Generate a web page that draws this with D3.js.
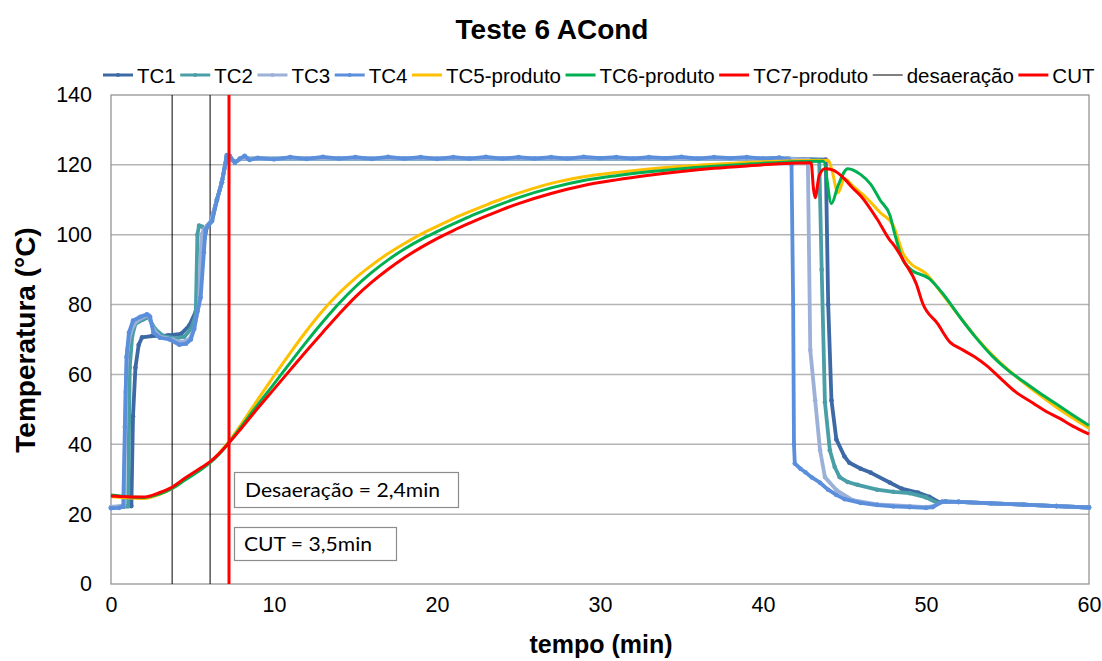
<!DOCTYPE html>
<html>
<head>
<meta charset="utf-8">
<script src="https://cdn.jsdelivr.net/npm/d3@7"></script>
<style>
  body { margin: 0; background: #fff; }
  svg text { font-family: "Liberation Sans", Arial, sans-serif; }
</style>
</head>
<body>
<svg id="chart" width="1102" height="661"></svg>
<script>
// series data [tempo (min), temperatura (°C)]
var tc1 = [[0,21.9],[1.25,22.3],[1.35,48],[1.5,62],[1.7,68.5],[1.9,70.6],[2.5,71],[3.5,71.2],[4.3,71.6],[4.8,74],[5.2,78],[5.5,86],[5.7,98],[5.9,102.5],[6.1,103.5],[6.5,110],[6.8,115],[7.1,122.3],[7.6,120.8],[8,121.8],[41.5,121.8],[43.85,121.5],[44.0,80],[44.2,52.6],[44.5,41.4],[45,36.5],[45.3,34.7],[46,33],[46.6,31.9],[47.8,29],[48.5,27.3],[49.5,26.2],[50.2,25],[50.8,23.4],[51.2,23.6],[52,23.5],[54,23.1],[56,22.7],[58,22.3],[60,21.9]];
var tc2 = [[0,21.9],[1.05,22.3],[1.15,62],[1.3,71],[1.5,74.5],[2.0,75.8],[2.3,76.3],[2.7,73],[3.2,71],[4,70.3],[4.5,70.8],[4.9,73],[5.2,77],[5.3,100],[5.4,102.6],[5.6,102.3],[5.8,101.5],[6.0,103],[6.2,104],[6.5,110],[6.8,115],[7.1,122.3],[7.6,120.8],[8,121.8],[41.5,121.8],[43.45,121.3],[43.6,90],[43.8,52],[44.1,38.3],[44.4,33.5],[44.7,30.6],[45.2,29.2],[45.8,28.4],[47,27],[48,26.4],[49,26],[50,24.8],[50.7,23.2],[51.2,23.6],[52,23.5],[54,23.1],[56,22.7],[58,22.3],[60,21.9]];
var tc3 = [[0,22.1],[0.8,22.4],[0.9,55],[1.0,67],[1.2,72],[1.5,75],[2.0,76.5],[2.3,77],[2.6,73],[3.0,70.8],[3.8,70],[4.3,69.2],[4.8,70],[5.1,73],[5.4,80],[5.55,100],[5.7,101.5],[5.9,102.5],[6.1,103.5],[6.5,110],[6.8,115],[7.1,122.3],[7.6,120.8],[8,121.8],[41.5,121.8],[42.75,121.5],[42.9,67],[43.2,52.6],[43.5,38.3],[43.8,30.6],[44.5,26.9],[45.5,24],[47,22.8],[49,22.3],[50,22],[50.5,22.3],[51,23.5],[52,23.5],[54,23.1],[56,22.7],[58,22.3],[60,21.9]];
var tc4 = [[0,21.7],[0.5,21.8],[0.75,22.2],[0.85,45],[0.95,65],[1.1,72],[1.35,75.4],[1.8,76.5],[2.2,77.2],[2.4,76.5],[2.6,72],[3.0,70.5],[3.6,70],[4.2,68.5],[4.6,68.8],[4.9,70],[5.1,73],[5.3,78],[5.5,82],[5.7,95],[5.8,101.5],[6.0,102.8],[6.2,104],[6.5,110],[6.8,115],[7.1,122.8],[7.3,122.5],[7.6,120.6],[7.9,121.8],[8.2,122.6],[8.5,121.4],[9,122],[10,121.6],[11,122.2],[12,121.7],[13,122.3],[14,121.8],[15,122.2],[16,121.7],[17,122.3],[18,121.8],[19,122.2],[20,121.7],[21,122.2],[22,121.8],[23,122.3],[24,121.8],[25,122.2],[26,121.8],[27,122.2],[28,121.8],[29,122.3],[30,121.9],[31,122.2],[32,121.8],[33,122.2],[34,121.9],[35,122.3],[36,121.8],[37,122.2],[38,121.9],[39,122.2],[40,121.8],[41,122.1],[41.6,121.5],[41.75,120],[41.85,80],[41.9,40],[41.95,34.5],[42.3,33],[42.6,32],[43,30.5],[43.5,29],[44,27],[44.5,25.5],[45,24.3],[46,23.2],[47,22.6],[48,22.2],[49,22],[50,21.8],[50.4,22],[51,23.6],[52,23.5],[54,23.1],[56,22.7],[58,22.3],[60,21.9]];
var tc5 = [[0,25.0],[1,24.7],[2,24.5],[3,25.7],[3.7,27.2],[4.5,29.8],[5.5,32.9],[6.1,35.0],[6.6,37.3],[7.2,40.6],[8,45.8],[9,52.8],[10,59.6],[11,66.2],[12,72.5],[13,78.3],[14,83.3],[15,87.6],[16,91.3],[17,94.6],[18,97.5],[19,100.1],[20,102.4],[21,104.6],[22,106.6],[23,108.5],[24,110.3],[25,111.9],[27,114.7],[29,116.6],[31,117.8],[33,118.8],[35,119.6],[37,120.2],[39,120.7],[41,121],[42,121.2],[44,121.3],[44.2,119],[44.6,112],[45,116],[45.5,114],[46,112],[46.4,110.3],[47.2,106.3],[48,102.6],[48.6,94.6],[49,92],[50,88.9],[51,83],[52.1,76.3],[53,71],[54,65.9],[55,61.5],[56,57.6],[57,54.0],[58,50.6],[59,47.5],[60,44.6]];
var tc6 = [[0,25.5],[1,25.0],[2,24.8],[3,25.8],[3.7,27.2],[4.5,29.6],[5.5,32.7],[6.1,34.8],[6.6,37.0],[7.2,40.3],[8,45.1],[9,51.3],[10,57.3],[11,63.4],[12,69.4],[13,75.1],[14,80.4],[15,85.1],[16,89.2],[17,92.8],[18,95.9],[19,98.6],[20,100.9],[21,103.1],[22,105.2],[23,107.1],[24,108.9],[25,110.6],[27,113.4],[29,115.5],[31,116.9],[33,118.0],[35,118.9],[37,119.6],[39,120.2],[41,120.7],[43.7,121],[44.2,108.9],[44.6,114],[45.2,118.9],[46,117.2],[46.6,114.5],[47.2,109.8],[47.8,105.4],[48,101.7],[48.6,92.6],[49,90.3],[50.2,87.4],[51,83.3],[52.1,76.3],[53,70.9],[54.1,65.1],[55,61.3],[56,57.9],[57,54.6],[58,51.5],[59,48.4],[60,45.4]];
var tc7 = [[0,25.2],[1,25.0],[2,24.9],[3,26.2],[3.7,27.6],[4.5,30.2],[5.5,33.2],[6.1,35.1],[6.6,37.2],[7.2,40.2],[8,44.6],[9,50.3],[10,55.8],[11,61.3],[12,66.8],[13,72.1],[14,77.3],[15,82.2],[16,86.4],[17,90.1],[18,93.4],[19,96.3],[20,98.9],[21,101.2],[22,103.3],[23,105.3],[24,107.2],[25,108.9],[27,111.8],[29,114.1],[31,115.7],[33,117.0],[35,118.1],[37,119.0],[39,119.7],[41,120.3],[42.95,120.6],[43.1,113],[43.2,110.6],[43.45,117],[43.8,118.9],[44.3,118.5],[45,116],[45.5,113.4],[46,111.1],[47,104.5],[47.8,98.3],[48,97.2],[48.7,92],[49.4,86],[49.8,80.3],[50.7,74.6],[51.5,69.1],[52.1,67.4],[53,65],[53.7,62.6],[54.7,58.3],[55.5,55],[56.6,51.7],[57.4,49.3],[58.2,47.4],[59,45.2],[60,42.9]];

var deaerationTimes = [3.75, 6.08];
var cutTime = 7.24;

var xTicks = [0, 10, 20, 30, 40, 50, 60];
var yTicks = [0, 20, 40, 60, 80, 100, 120, 140];

var seriesNames = ['TC1', 'TC2', 'TC3', 'TC4', 'TC5-produto', 'TC6-produto', 'TC7-produto'];
var seriesColors = ['#3d69a5', '#4a9ea7', '#9cb0d8', '#5b8fdc', '#ffc000', '#00b050', '#ff0000'];
var seriesData = [tc1, tc2, tc3, tc4, tc5, tc6, tc7];

var svg = d3.select('#chart');
var plot = {l: 111, r: 1089, t: 95, b: 584};

var x = d3.scaleLinear().domain([0, 60]).range([plot.l, plot.r]);
var y = d3.scaleLinear().domain([0, 140]).range([plot.b, plot.t]);

// title
svg.append('text')
    .attr('x', 552).attr('y', 39)
    .attr('text-anchor', 'middle')
    .style('font-size', '28px').style('font-weight', 'bold')
    .text('Teste 6 ACond');

// gridlines
svg.append('g').selectAll('line')
    .data(yTicks.filter(function(d){ return d > 0 && d < 140; }))
    .enter().append('line')
    .attr('x1', plot.l).attr('x2', plot.r)
    .attr('y1', function(d){ return y(d); })
    .attr('y2', function(d){ return y(d); })
    .attr('stroke', '#b4b4b4').attr('stroke-width', 1.5);

// plot frame
svg.append('rect')
    .attr('x', plot.l).attr('y', plot.t)
    .attr('width', plot.r - plot.l).attr('height', plot.b - plot.t)
    .attr('fill', 'none').attr('stroke', '#8c8c8c').attr('stroke-width', 1.2);

// axes (labels only)
var yAxis = d3.axisLeft(y).tickValues(yTicks).tickSize(0).tickPadding(19);
svg.append('g').attr('transform', 'translate(' + plot.l + ',0)').call(yAxis)
    .call(function(g){ g.select('.domain').remove(); })
    .selectAll('text').style('font-size', '21.5px').attr('fill', '#000')
    .style('font-family', '"Liberation Sans", Arial, sans-serif');

var xAxis = d3.axisBottom(x).tickValues(xTicks).tickSize(0).tickPadding(13);
svg.append('g').attr('transform', 'translate(0,' + plot.b + ')').call(xAxis)
    .call(function(g){ g.select('.domain').remove(); })
    .selectAll('text').style('font-size', '21.5px').attr('fill', '#000')
    .style('font-family', '"Liberation Sans", Arial, sans-serif');

// axis titles
svg.append('text')
    .attr('x', 601).attr('y', 653)
    .attr('text-anchor', 'middle')
    .style('font-size', '25px').style('font-weight', 'bold')
    .text('tempo (min)');

svg.append('text')
    .attr('transform', 'translate(35,340) rotate(-90)')
    .attr('text-anchor', 'middle')
    .style('font-size', '28px').style('font-weight', 'bold')
    .text('Temperatura (°C)');

// desaeração lines
svg.append('g').selectAll('line')
    .data(deaerationTimes)
    .enter().append('line')
    .attr('x1', function(d){ return x(d); })
    .attr('x2', function(d){ return x(d); })
    .attr('y1', y(0)).attr('y2', y(140))
    .attr('stroke', '#000').attr('stroke-width', 1);

// series lines
var lineTC = d3.line()
    .x(function(d){ return x(d[0]); })
    .y(function(d){ return y(d[1]); });
var lineProd = d3.line()
    .x(function(d){ return x(d[0]); })
    .y(function(d){ return y(d[1]); })
    .curve(d3.curveMonotoneX);

seriesData.forEach(function(data, i){
    var isTC = i < 4;
    svg.append('path')
        .datum(data)
        .attr('d', isTC ? lineTC : lineProd)
        .attr('fill', 'none')
        .attr('stroke', seriesColors[i])
        .attr('stroke-width', isTC ? 3.8 : 3)
        .attr('stroke-linejoin', 'round');
    if (isTC) {
        svg.append('g').selectAll('circle')
            .data(data)
            .enter().append('circle')
            .attr('cx', function(d){ return x(d[0]); })
            .attr('cy', function(d){ return y(d[1]); })
            .attr('r', 2.3)
            .attr('fill', seriesColors[i]);
    }
});

// CUT line
svg.append('line')
    .attr('x1', x(cutTime)).attr('x2', x(cutTime))
    .attr('y1', y(0)).attr('y2', y(140))
    .attr('stroke', '#ff0000').attr('stroke-width', 3);

// annotation boxes
function note(bx, by, bw, bh, label, tx, tw) {
    svg.append('rect')
        .attr('x', bx).attr('y', by).attr('width', bw).attr('height', bh)
        .attr('fill', '#fff').attr('stroke', '#8c8c8c').attr('stroke-width', 1.2);
    svg.append('text')
        .attr('x', tx).attr('y', by + bh / 2 + 6.5)
        .attr('textLength', tw).attr('lengthAdjust', 'spacingAndGlyphs')
        .style('font-family', 'Lato, "Open Sans", sans-serif')
        .style('font-size', '19px')
        .text(label);
}
note(234.5, 472.5, 224, 35, 'Desaeração  = 2,4min', 245, 195);
note(234.5, 527.5, 162, 33, 'CUT = 3,5min', 244, 128);

// legend
var legendNames = seriesNames.concat(['desaeração', 'CUT']);
var legendColors = seriesColors.concat(['#000', '#ff0000']);
var lx = 103, ly = 75;
legendNames.forEach(function(name, i){
    var g = svg.append('g');
    g.append('line')
        .attr('x1', lx).attr('x2', lx + 30)
        .attr('y1', ly).attr('y2', ly)
        .attr('stroke', legendColors[i])
        .attr('stroke-width', name === 'desaeração' ? 1 : 3);
    if (i < 4) {
        g.append('circle').attr('cx', lx + 15).attr('cy', ly).attr('r', 2)
            .attr('fill', legendColors[i]);
    }
    var t = g.append('text')
        .attr('x', lx + 34).attr('y', ly + 7.5)
        .style('font-size', '20.5px')
        .text(name);
    lx += 34 + t.node().getComputedTextLength() + 4.5;
});
</script>
</body>
</html>
